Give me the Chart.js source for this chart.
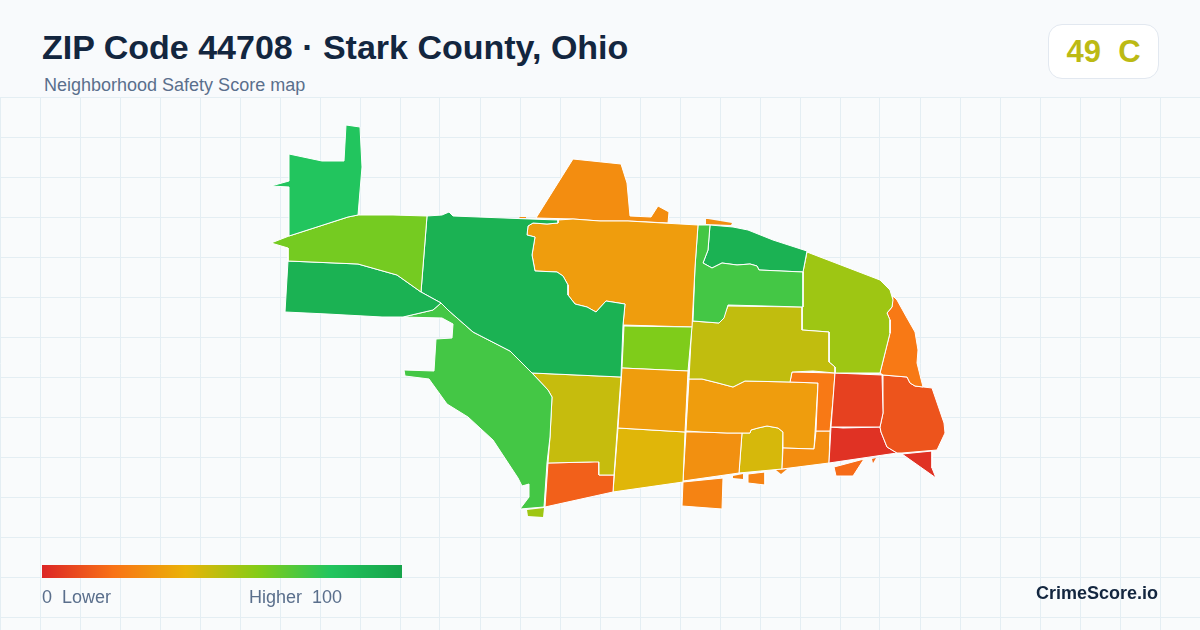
<!DOCTYPE html>
<html>
<head>
<meta charset="utf-8">
<title>ZIP Code 44708</title>
<script src="https://cdn.jsdelivr.net/npm/chart.js@4/dist/chart.umd.min.js"></script>
<style>
  html, body { margin: 0; padding: 0; }
  body { width: 1200px; height: 630px; background: #f8fafc; position: relative; overflow: hidden; font-family: "Liberation Sans", Arial, sans-serif; }
  #mapChart { position: absolute; left: 0; top: 97px; background: #f9fbfc; }
  .title { position: absolute; left: 42px; top: 27px; font-size: 34px; font-weight: 700; color: #13263f; line-height: 40px; white-space: nowrap; }
  .subtitle { position: absolute; left: 44px; top: 75px; font-size: 18px; color: #5a6f8c; line-height: 20px; white-space: nowrap; }
  .badge { position: absolute; left: 1048px; top: 24px; width: 109px; height: 53px; background: #fff; border: 1px solid #e2e8f0; border-radius: 14px; text-align: center; font-size: 31px; font-weight: 700; line-height: 53px; color: #bcba14; white-space: pre; }
  .legend-bar { position: absolute; left: 42px; top: 565px; width: 360px; height: 13px; background: linear-gradient(90deg, #dc2626, #f97316 20%, #eab308 40%, #84cc16 60%, #22c55e 80%, #16a34a); }
  .legend-low, .legend-high { position: absolute; top: 587px; font-size: 18px; line-height: 20px; color: #5a6f8c; white-space: pre; }
  .legend-low { left: 42px; }
  .legend-high { left: 249px; }
  .brand { position: absolute; right: 42px; top: 582px; font-size: 18px; font-weight: 700; line-height: 22px; color: #13263f; }
</style>
</head>
<body>
<canvas id="mapChart" width="1200" height="533"></canvas>
<div class="title">ZIP Code 44708 · Stark County, Ohio</div>
<div class="subtitle">Neighborhood Safety Score map</div>
<div class="badge">49  C</div>
<div class="legend-bar"></div>
<div class="legend-low">0  Lower</div>
<div class="legend-high">Higher  100</div>
<div class="brand">CrimeScore.io</div>
<script>
// ramp used by the legend: score -> colour
const rampScores = [0, 20, 40, 60, 80, 100];
const rampColors = [[220,38,38], [249,115,22], [234,179,8], [132,204,22], [34,197,94], [22,163,74]];

// tract outlines
const farNorthwest = [[346,125],[360,127],[362,167],[358,215],[348,217],[289,236],[289,187],[271,186],[289,181],[289,154],[322,161],[344,161]];
const westLime = [[289,236],[271,243],[288,248],[288,261],[358,264],[397,275],[421,292],[427,216],[393,215],[358,215],[348,217]];
const southwestGreen = [[288,261],[358,264],[397,275],[421,292],[441,303],[433,310],[403,317],[382,317],[327,314],[285,312]];
const centralGreen = [[427,216],[442,215],[449,212],[453,216],[530,219],[558,220],[558,223],[547,224],[533,223],[528,226],[527,235],[535,237],[532,255],[535,271],[557,272],[563,276],[568,285],[568,295],[575,304],[587,307],[596,312],[606,301],[625,304],[623,325],[621,377],[532,373],[510,351],[473,332],[448,310],[441,303],[421,292]];
const riverGreen = [[403,317],[433,310],[441,303],[448,310],[473,332],[510,351],[532,373],[548,390],[552,397],[550,437],[547,463],[544,507],[520,509],[529,497],[529,484],[522,486],[518,478],[493,440],[468,417],[447,404],[429,379],[405,376],[404,370],[434,371],[436,339],[452,338],[453,324],[442,318]];
const southwestOlive = [[532,373],[621,377],[614,475],[599,475],[599,462],[590,462],[548,463],[550,437],[552,397],[548,390]];
const southOrangeRed = [[548,463],[590,462],[599,461],[599,475],[614,475],[613,492],[545,507]];
const limeSliver = [[527,510],[528,516],[543,517],[544,508]];
const midOrange = [[622,368],[688,371],[685,432],[618,428]];
const midMustard = [[618,428],[685,432],[683,482],[613,492]];
const midLime = [[624,326],[692,327],[688,371],[622,368]];
const northOrange = [[558,220],[573,219],[600,221],[628,221],[698,225],[695,267],[692,327],[623,325],[625,304],[606,301],[596,312],[587,307],[575,304],[568,295],[568,285],[563,276],[557,272],[535,271],[532,255],[535,237],[527,235],[528,226],[533,223],[547,224],[558,223]];
const topOrange = [[573,159],[621,164],[627,183],[630,216],[651,217],[658,206],[669,212],[668,223],[628,221],[600,221],[573,219],[536,218]];
const topSliver = [[706,219],[708,219],[732,223],[731,225],[706,224]];
const topSpeck = [[519,217],[526,217],[526,218],[520,218]];
const northLightGreen = [[698,225],[710,225],[708,250],[703,263],[712,268],[722,263],[737,265],[750,264],[757,266],[759,270],[803,272],[803,307],[728,305],[724,318],[719,323],[693,321],[695,267]];
const northDarkGreen = [[710,225],[733,227],[748,230],[773,240],[807,251],[803,272],[759,270],[757,266],[750,264],[737,265],[722,263],[712,268],[703,263],[708,250]];
const centerOlive = [[692,321],[719,323],[723,318],[728,306],[802,307],[802,330],[829,332],[829,362],[835,367],[835,373],[813,371],[792,372],[790,382],[745,381],[733,387],[718,383],[702,379],[689,379]];
const northeastLime = [[807,252],[880,280],[890,290],[893,300],[892,307],[887,313],[890,320],[890,333],[880,373],[835,373],[835,367],[829,362],[829,332],[802,330],[802,307],[803,272]];
const eastOrange = [[893,296],[897,300],[907,318],[915,332],[918,350],[917,363],[923,387],[915,386],[910,383],[907,377],[883,375],[880,373],[890,333],[890,320],[887,313],[892,307]];
const eastRed = [[835,373],[882,375],[883,413],[880,427],[843,427],[831,427],[833,400]];
const farEastRed = [[883,375],[907,377],[910,383],[915,386],[932,388],[944,423],[945,433],[937,450],[902,453],[897,453],[887,447],[881,432],[880,427],[883,413]];
const southeastRed = [[831,427],[843,428],[880,427],[881,432],[887,447],[897,453],[829,463]];
const cornerRed = [[902,454],[932,451],[932,468],[936,478]];
const southIsland = [[864,459],[853,476],[836,476],[834,467]];
const southSpeck = [[872,459],[876,458],[873,463]];
const innerOrangeTop = [[792,372],[835,373],[833,400],[830,431],[816,431],[818,383],[790,382]];
const innerOrangeLow = [[816,431],[830,431],[829,463],[782,469],[783,448],[814,449]];
const centerSouthOrange = [[689,379],[702,379],[718,383],[733,387],[745,381],[790,382],[818,383],[814,449],[783,448],[783,432],[778,428],[767,426],[758,428],[751,430],[750,433],[727,433],[702,432],[686,431]];
const lowerOrange = [[686,432],[702,432],[727,433],[742,433],[739,473],[683,481]];
const lowerMustard = [[742,433],[750,433],[751,430],[758,428],[767,426],[778,428],[783,432],[782,469],[739,473]];
const bottomOrange = [[683,482],[723,478],[722,509],[682,506]];
const bottomThin = [[733,476],[743,474],[743,479],[733,478]];
const bottomSquare = [[748,474],[765,472],[765,485],[748,483]];
const bottomSpeck = [[776,470],[787,469],[781,474]];

const tractOutlines = [farNorthwest, westLime, southwestGreen, centralGreen, riverGreen, southwestOlive, southOrangeRed, limeSliver, midOrange, midMustard, midLime, northOrange, topOrange, topSliver, topSpeck, northLightGreen, northDarkGreen, centerOlive, northeastLime, eastOrange, eastRed, farEastRed, southeastRed, cornerRed, southIsland, southSpeck, innerOrangeTop, innerOrangeLow, centerSouthOrange, lowerOrange, lowerMustard, bottomOrange, bottomThin, bottomSquare, bottomSpeck];
const tractScores = [80, 63, 91, 91, 73, 47, 15, 55, 33, 42, 61, 33, 28, 28, 28, 73, 91, 48, 55, 22, 7, 12, 3, 3, 18, 18, 22, 28, 33, 29, 44, 25, 25, 25, 25];

// too small to survive a white outline
const specks = [limeSliver, topSliver, topSpeck, southSpeck, bottomThin, bottomSpeck];

function scoreColor(score) {
  let i = 0;
  while (i < rampScores.length - 2 && score > rampScores[i + 1]) i++;
  const t = (score - rampScores[i]) / (rampScores[i + 1] - rampScores[i]);
  const c = rampColors[i].map((v, k) => Math.round(v + (rampColors[i + 1][k] - v) * t));
  return `rgb(${c[0]}, ${c[1]}, ${c[2]})`;
}

const datasets = tractOutlines.map((outline, i) => ({
  data: outline.concat([outline[0]]).map(p => ({ x: p[0], y: p[1] })),
  showLine: true,
  fill: 'shape',
  backgroundColor: scoreColor(tractScores[i]),
  borderColor: '#ffffff',
  borderWidth: specks.includes(outline) ? 0 : 1,
  pointRadius: 0,
  tension: 0,
  clip: false,
}));

const ctx = document.getElementById("mapChart").getContext("2d");
const mapChart = new Chart(ctx, {
  type: 'scatter',
  data: { datasets },
  options: {
    responsive: false,
    animation: false,
    layout: { padding: 0 },
    plugins: { legend: { display: false }, tooltip: { enabled: false } },
    scales: {
      x: {
        type: 'linear',
        min: 0,
        max: 1200,
        ticks: { display: false, stepSize: 40 },
        grid: { color: '#e4eef3', drawTicks: false },
        border: { display: false },
      },
      y: {
        type: 'linear',
        reverse: true,
        min: 97,
        max: 630,
        ticks: { display: false },
        afterBuildTicks: axis => {
          const ticks = [];
          for (let v = 97; v <= 630; v += 40) ticks.push({ value: v });
          axis.ticks = ticks;
        },
        grid: { color: '#e4eef3', drawTicks: false },
        border: { display: false },
      },
    },
  },
});
</script>
</body>
</html>
